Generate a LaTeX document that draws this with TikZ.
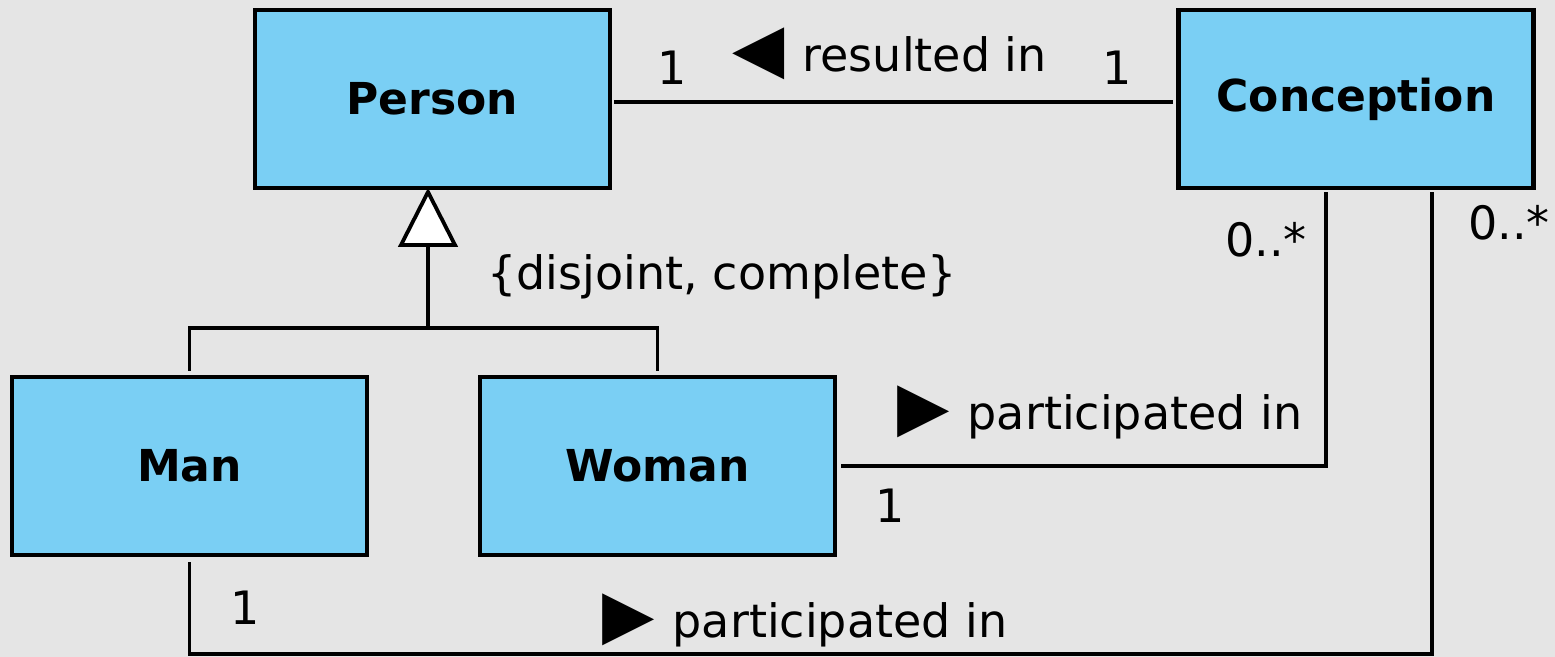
\documentclass[tikz,border=0pt]{standalone}
\usepackage{fontspec}
\setmainfont{DejaVu Sans}
\definecolor{bg}{HTML}{E5E5E5}
\definecolor{classfill}{HTML}{7ACFF4}
\newcommand{\dirmark}[1]{{\fontsize{34}{34}\selectfont #1}\hspace{9pt}}
\begin{document}
\begin{tikzpicture}[x=0.5pt,y=-0.5pt,
  classbox/.style={draw=black, line width=2.2pt, fill=classfill,
    minimum width=177.5pt, minimum height=89pt, inner sep=0pt,
    font=\fontsize{22}{26}\selectfont\bfseries},
  conn/.style={draw=black, line width=1.9pt},
  lbl/.style={inner sep=0pt, font=\fontsize{23}{27}\selectfont}]
  % background
  \fill[bg] (0,0) rectangle (1555,657);
  \useasboundingbox (0,0) rectangle (1555,657);

  % classes
  \node[classbox] (person)     at (432.5,99)  {Person};
  \node[classbox] (conception) at (1356,99)   {Conception};
  \node[classbox] (man)        at (189.5,466) {Man};
  \node[classbox] (woman)      at (657.5,466) {Woman};

  % helper points for the connectors
  \coordinate (gtip)  at (428,192);
  \coordinate (gbase) at (428,245);
  \coordinate (gbar)  at (0,328);
  \coordinate (cw)    at (1326,192);
  \coordinate (cm)    at (1432,192);
  \coordinate (bot)   at (0,654);

  % association: Conception resulted in Person
  \draw[conn, shorten <=1pt, shorten >=1.5pt]
    ([yshift=-1.5pt]person.east) -- ([yshift=-1.5pt]conception.west);

  % generalization set
  \draw[conn] (gbase) -- (gtip |- gbar);
  \draw[conn] ([yshift=2pt]man.north) |- (gbar -| woman.north) -- ([yshift=2pt]woman.north);
  \draw[conn, fill=white, line join=miter] (gtip) -- (401,245) -- (455,245) -- cycle;

  % Woman participated in Conception
  \draw[conn] ([xshift=2pt]woman.east) -| (cw);

  % Man participated in Conception
  \draw[conn] ([yshift=-2.5pt]man.south) |- (bot -| cm) -- (cm);

  % labels
  \node[lbl, anchor=base west] (m1) at (657,85)  {1};
  \node[lbl, anchor=base west] (m2) at (1102,85) {1};
  \node[lbl, anchor=base west] (rl) at (732,72)  {\dirmark{◀}resulted in};
  \node[lbl, anchor=base west] (gs) at (487,290) {\{disjoint, complete\}};
  \node[lbl, anchor=base west] (m3) at (1225,257) {0..*};
  \node[lbl, anchor=base west] (m4) at (1468,240) {0..*};
  \node[lbl, anchor=base west] (p1) at (897,430) {\dirmark{▶}participated in};
  \node[lbl, anchor=base west] (m5) at (875,523) {1};
  \node[lbl, anchor=base west] (m6) at (230,625) {1};
  \node[lbl, anchor=base west] (p2) at (602,638) {\dirmark{▶}participated in};
\end{tikzpicture}
\end{document}
